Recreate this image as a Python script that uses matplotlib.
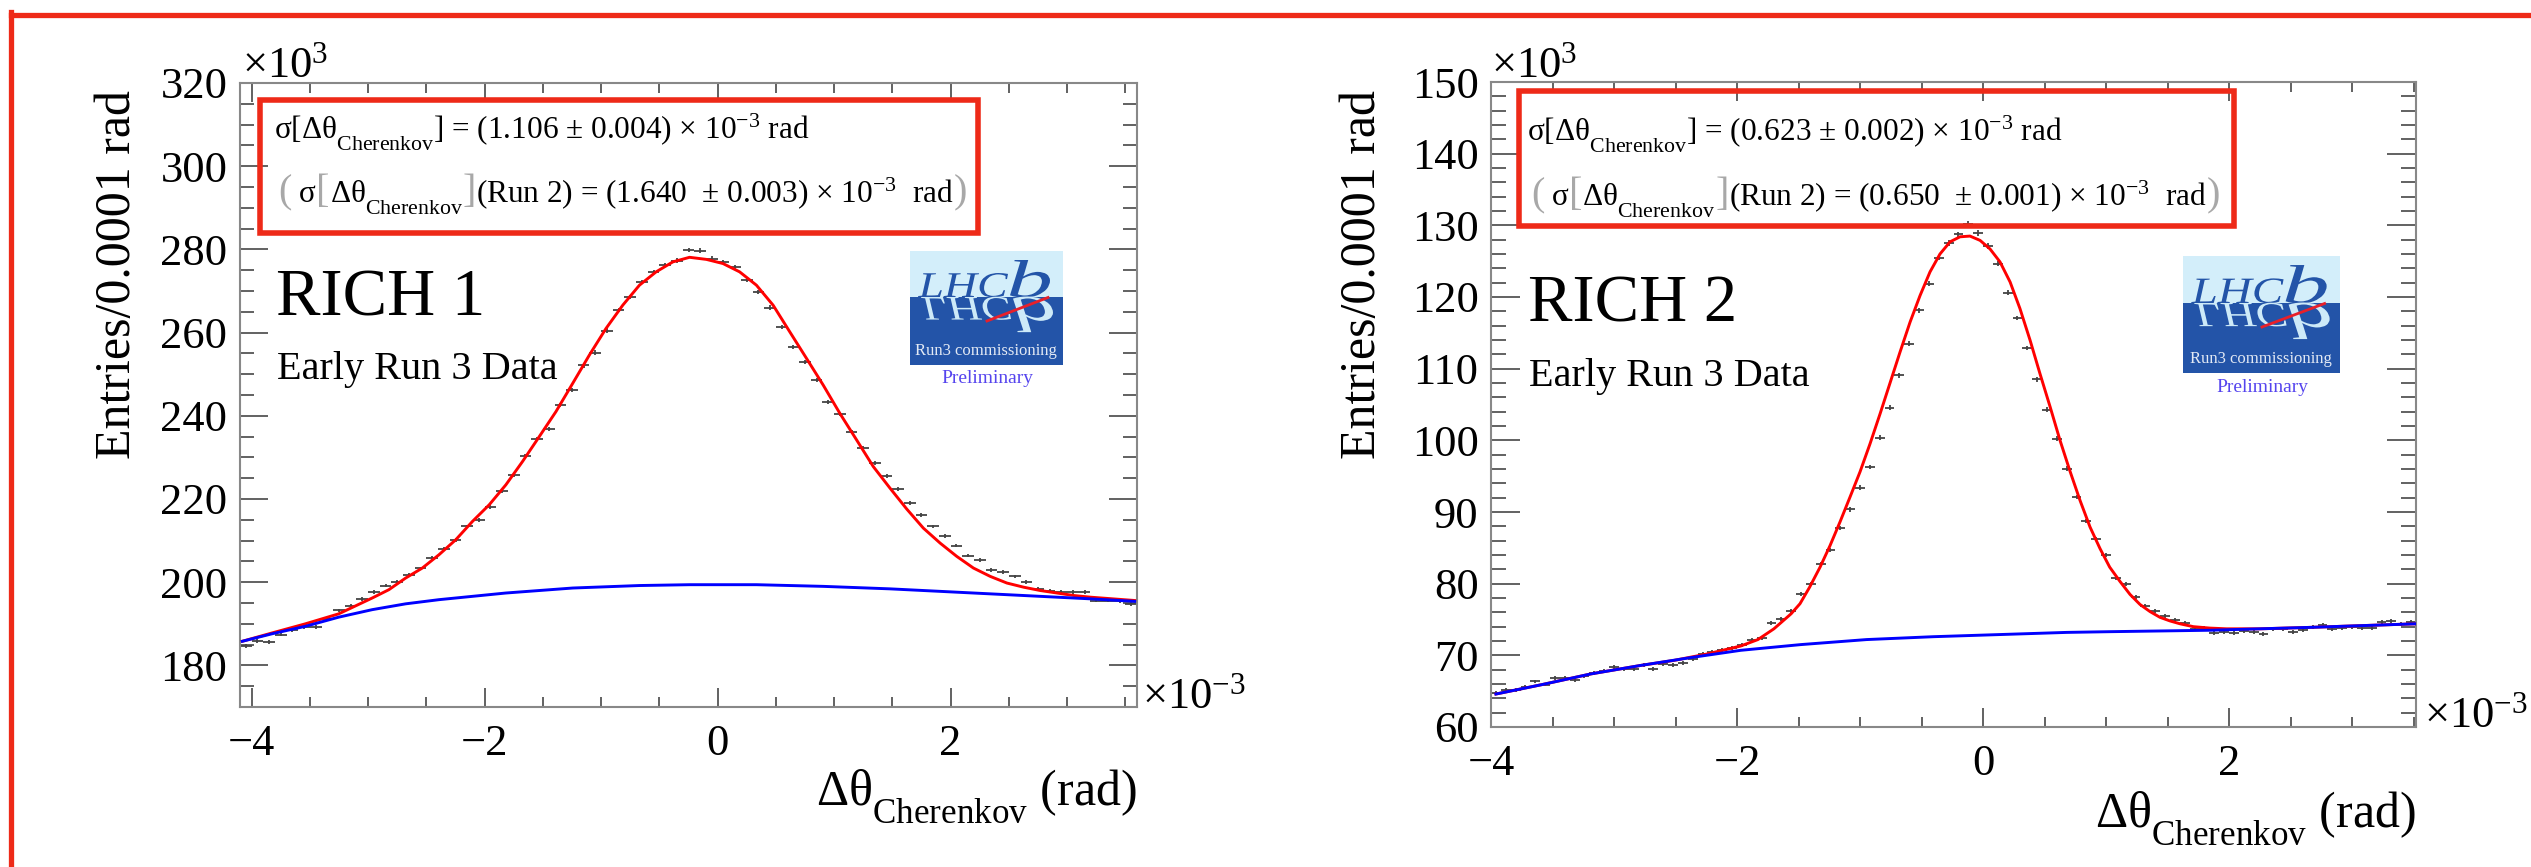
import numpy as np
import matplotlib
matplotlib.use('Agg')
import matplotlib.pyplot as plt
from matplotlib.patches import Rectangle, PathPatch
from matplotlib.textpath import TextPath
from matplotlib.font_manager import FontProperties
from matplotlib.transforms import Affine2D
from matplotlib.offsetbox import TextArea, HPacker, AnnotationBbox
from matplotlib.lines import Line2D
from matplotlib.ticker import MultipleLocator

# ---------------- data ----------------
# RICH 1 histogram (units: x in 1e-3 rad, y in 1e3 entries)
r1_bin_lo, r1_bin_hi, r1_nbins = -4.1, 3.6, 77
r1_counts = [184.6, 185.8, 185.6, 187.4, 188.4, 189.2, 189.3, 191.2, 193.2, 194.2,
             196.0, 197.6, 199.2, 200.1, 201.8, 203.3, 205.8, 208.0, 210.2, 213.4,
             214.9, 218.1, 222.0, 225.7, 230.4, 234.4, 236.9, 242.5, 246.1, 252.1,
             255.2, 260.5, 265.4, 268.6, 272.2, 274.6, 276.2, 277.3, 279.8, 279.7,
             277.8, 277.0, 275.7, 272.6, 269.8, 266.0, 261.3, 256.5, 252.9, 248.6,
             243.4, 240.5, 236.2, 232.2, 228.6, 225.6, 222.4, 219.0, 216.2, 213.4,
             211.2, 208.8, 206.4, 205.3, 202.9, 202.4, 201.4, 200.0, 198.4, 198.0,
             197.6, 197.6, 197.6, 195.6, 195.6, 195.4, 194.8]
r1_fit_x = [-4.08, -3.825, -3.538, -3.252, -2.965, -2.822, -2.678, -2.535, -2.392, -2.248,
            -2.105, -1.961, -1.818, -1.675, -1.531, -1.388, -1.244, -1.101, -0.958, -0.814,
            -0.671, -0.528, -0.384, -0.241, -0.097, 0.046, 0.189, 0.333, 0.476, 0.619,
            0.763, 0.906, 1.049, 1.193, 1.336, 1.480, 1.623, 1.766, 1.910, 2.053,
            2.196, 2.340, 2.483, 2.627, 2.770, 2.913, 3.057, 3.200, 3.343, 3.58]
r1_fit_y = [185.8, 187.8, 190.0, 192.4, 196.2, 198.2, 201.0, 203.4, 206.6, 210.2,
            214.6, 218.6, 223.4, 229.0, 235.0, 241.0, 247.8, 254.6, 261.0, 266.6,
            271.4, 274.6, 277.0, 278.1, 277.6, 276.6, 274.6, 271.4, 266.6, 260.2,
            253.8, 247.4, 240.6, 234.2, 227.8, 222.6, 217.6, 213.0, 209.4, 206.2,
            203.4, 201.4, 199.8, 198.8, 198.0, 197.4, 196.8, 196.4, 196.1, 195.6]
r1_bkg_x = [-4.08, -3.825, -3.538, -3.252, -2.965, -2.678, -2.392, -2.105, -1.818, -1.531,
            -1.244, -0.671, -0.241, 0.333, 0.906, 1.480, 2.053, 2.627, 3.200, 3.58]
r1_bkg_y = [185.8, 187.6, 189.4, 191.6, 193.4, 194.8, 195.8, 196.6, 197.4, 198.0,
            198.6, 199.2, 199.4, 199.4, 199.0, 198.4, 197.6, 196.8, 196.0, 195.4]

# RICH 2 histogram
r2_bin_lo, r2_bin_hi, r2_nbins = -4.0, 3.52, 94
r2_counts = [64.74, 65.12, 65.2, 65.58, 66.37, 65.91, 66.84, 66.84, 66.51, 67.07,
             67.58, 67.81, 68.37, 68.14, 68.14, 68.70, 68.14, 68.84, 68.70, 68.93,
             69.53, 70.23, 70.47, 70.70, 71.02, 71.40, 72.19, 72.42, 74.56, 75.12,
             76.19, 78.51, 80.0, 82.79, 84.65, 87.77, 90.37, 93.40, 96.28, 100.37,
             104.56, 109.07, 113.49, 118.14, 121.86, 125.49, 127.53, 128.74, 130.2, 128.93,
             127.12, 124.65, 120.56, 117.07, 112.88, 108.51, 104.28, 100.23, 96.05, 92.09,
             88.70, 86.28, 83.95, 80.84, 80.0, 78.14, 76.84, 76.14, 75.44, 74.98,
             74.51, 73.72, 73.86, 73.12, 73.26, 73.16, 73.35, 73.26, 73.02, 73.72,
             73.72, 73.26, 73.58, 73.95, 74.23, 73.72, 73.86, 73.95, 73.86, 73.86,
             74.65, 74.74, 74.42, 74.65]
r2_fit_x = [-3.96, -3.59, -3.19, -2.78, -2.51, -2.24, -1.97, -1.83, -1.70, -1.56,
            -1.488, -1.41, -1.325, -1.244, -1.163, -1.081, -1.0, -0.919, -0.837, -0.756,
            -0.675, -0.593, -0.512, -0.431, -0.35, -0.268, -0.187, -0.106, -0.024, 0.057,
            0.138, 0.22, 0.30, 0.382, 0.463, 0.545, 0.626, 0.707, 0.789, 0.87,
            0.951, 1.03, 1.114, 1.195, 1.276, 1.358, 1.439, 1.52, 1.602, 1.71,
            1.845, 1.98, 2.117, 2.25, 2.657, 3.0, 3.52]
r2_fit_y = [64.6, 65.9, 67.4, 68.6, 69.3, 70.2, 71.3, 72.2, 73.7, 75.8,
            77.2, 79.5, 82.3, 85.3, 88.6, 92.1, 95.6, 99.5, 103.7, 108.0,
            112.3, 116.5, 120.2, 123.5, 126.0, 127.7, 128.4, 128.5, 127.9, 126.7,
            124.9, 122.1, 118.4, 114.0, 109.3, 104.7, 100.0, 95.7, 91.6, 87.9,
            84.9, 82.3, 80.3, 78.5, 77.1, 76.1, 75.3, 74.8, 74.4, 74.0,
            73.8, 73.7, 73.7, 73.7, 73.9, 74.1, 74.4]
r2_bkg_x = [-3.96, -3.59, -3.19, -2.78, -2.37, -1.97, -1.48, -0.946, -0.404, 0.138,
            0.68, 1.03, 1.845, 2.657, 3.52]
r2_bkg_y = [64.6, 65.9, 67.4, 68.6, 69.7, 70.7, 71.5, 72.2, 72.6, 72.9,
            73.2, 73.3, 73.5, 73.9, 74.4]

r1_sigma = "1.106 ± 0.004"
r1_run2 = "1.640  ± 0.003"
r2_sigma = "0.623 ± 0.002"
r2_run2 = "0.650  ± 0.001"

# ---------------- style ----------------
W, H, DPI = 2531, 867, 100
plt.rcParams['font.family'] = ['Liberation Serif', 'DejaVu Serif']
plt.rcParams['mathtext.fontset'] = 'custom'
plt.rcParams['mathtext.rm'] = 'Liberation Serif'
plt.rcParams['mathtext.it'] = 'Liberation Serif:italic'
plt.rcParams['mathtext.bf'] = 'Liberation Serif:bold'
plt.rcParams['axes.unicode_minus'] = True
# ROOT-like deeper subscripts
try:
    import matplotlib._mathtext as _mt
    _mt.FontConstantsBase.sub1 = 0.8
except Exception:
    pass

RED = '#ee2a18'
fig = plt.figure(figsize=(W / DPI, H / DPI), dpi=DPI)


def fx(x):
    return x / W


def fy(y):
    return 1 - y / H


def setup_axes(ax, xlim, ylim, ymaj, ymin, ylen):
    ax.set_xlim(*xlim)
    ax.set_ylim(*ylim)
    ax.xaxis.set_major_locator(MultipleLocator(2))
    ax.xaxis.set_minor_locator(MultipleLocator(0.5))
    ax.yaxis.set_major_locator(MultipleLocator(ymaj))
    ax.yaxis.set_minor_locator(MultipleLocator(ymin))
    ax.tick_params(which='both', direction='in', top=True, right=True,
                   color='#555555', labelcolor='black', width=1.3, labelsize=32)
    ax.tick_params(axis='y', which='major', length=ylen, pad=9)
    ax.tick_params(axis='y', which='minor', length=ylen / 2)
    ax.tick_params(axis='x', which='major', length=14, pad=12)
    ax.tick_params(axis='x', which='minor', length=7)
    for s in ax.spines.values():
        s.set_color('#888888')
        s.set_linewidth(1.5)


def draw_hist(ax, lo, hi, n, counts, fitx, fity, bkgx, bkgy):
    bw = (hi - lo) / n
    xc = lo + (np.arange(n) + 0.5) * bw
    cnt = np.array(counts)
    err = np.sqrt(cnt * 1e3) / 1e3
    ax.errorbar(xc, cnt, xerr=bw / 2, yerr=err, fmt='none', ecolor='#444444',
                elinewidth=1.3, capsize=0, zorder=2)
    ax.plot(fitx, fity, color='#ff0000', lw=2.1, zorder=3)
    ax.plot(bkgx, bkgy, color='#0000ff', lw=2.1, zorder=4)


ax1 = fig.add_axes([fx(240), fy(707), (1137 - 240) / W, (707 - 83) / H])
setup_axes(ax1, (r1_bin_lo, r1_bin_hi), (170, 320), 20, 5, 20)
draw_hist(ax1, r1_bin_lo, r1_bin_hi, r1_nbins, r1_counts, r1_fit_x, r1_fit_y, r1_bkg_x, r1_bkg_y)

ax2 = fig.add_axes([fx(1491), fy(727), (2416 - 1491) / W, (727 - 82) / H])
setup_axes(ax2, (r2_bin_lo, r2_bin_hi), (60, 150), 10, 2, 21)
draw_hist(ax2, r2_bin_lo, r2_bin_hi, r2_nbins, r2_counts, r2_fit_x, r2_fit_y, r2_bkg_x, r2_bkg_y)

# ---------------- axis titles / multipliers ----------------
for xl, yt in [(118, 90), (1363, 90)]:
    fig.text(fx(xl), fy(yt), 'Entries/0.0001 rad', rotation=90, fontsize=36,
             ha='center', va='top')
fig.text(fx(1137), fy(805), r'Δθ$_{\mathrm{Cherenkov}}$ (rad)', fontsize=36,
         ha='right', va='baseline')
fig.text(fx(2416), fy(827), r'Δθ$_{\mathrm{Cherenkov}}$ (rad)', fontsize=36,
         ha='right', va='baseline')
fig.text(fx(242), fy(77), r'×10$^{3}$', fontsize=32, va='baseline')
fig.text(fx(1491), fy(77), r'×10$^{3}$', fontsize=32, va='baseline')
fig.text(fx(1142), fy(708), r'×10$^{-3}$', fontsize=32, va='baseline')
fig.text(fx(2424), fy(727), r'×10$^{-3}$', fontsize=32, va='baseline')

# ---------------- labels ----------------
fig.text(fx(276), fy(315), 'RICH 1', fontsize=48, va='baseline')
fig.text(fx(277), fy(379), 'Early Run 3 Data', fontsize=29, va='baseline')
fig.text(fx(1528), fy(321), 'RICH 2', fontsize=48, va='baseline')
fig.text(fx(1529), fy(386), 'Early Run 3 Data', fontsize=29, va='baseline')


# ---------------- result boxes ----------------
def result_box(x0, y0, x1, y1, tx, ty1, ty2, sig, run2):
    fig.add_artist(Rectangle((fx(x0), fy(y1)), (x1 - x0) / W, (y1 - y0) / H,
                             transform=fig.transFigure, fill=False,
                             edgecolor=RED, linewidth=4, zorder=10))
    fig.text(fx(tx), fy(ty1),
             r'σ[Δθ$_{\mathrm{Cherenkov}}$] = (' + sig + r') × 10$^{\mathrm{-3}}$ rad',
             fontsize=22.5, va='baseline', zorder=11)
    gray = dict(fontsize=29, color='#a8a8a8')
    blk = dict(fontsize=22.5, color='black')
    parts = [TextArea('(', textprops=gray),
             TextArea(' σ', textprops=blk),
             TextArea('[', textprops=gray),
             TextArea(r'Δθ$_{\mathrm{Cherenkov}}$', textprops=blk),
             TextArea(']', textprops=gray),
             TextArea('(Run 2) = (' + run2 + r') × 10$^{\mathrm{-3}}$  rad ', textprops=blk),
             TextArea(')', textprops=gray)]
    pack = HPacker(children=parts, align='baseline', pad=0, sep=0)
    ab = AnnotationBbox(pack, (fx(tx + 4), fy(ty2)), xycoords='figure fraction',
                        box_alignment=(0, 0.5), frameon=False, pad=0)
    ab.set_zorder(11)
    fig.add_artist(ab)


result_box(260, 100, 978, 233, 274, 139, 195, r1_sigma, r1_run2)
result_box(1519, 91, 2234, 226, 1527, 141, 198, r2_sigma, r2_run2)


# ---------------- LHCb logos ----------------
def draw_logo(x0, y0, w, h, split, prelim_y):
    lax = fig.add_axes([fx(x0), fy(y0 + h), w / W, h / H])
    lax.set_xlim(0, w)
    lax.set_ylim(0, h)
    lax.axis('off')
    lax.add_patch(Rectangle((0, split), w, h - split, facecolor='#d3eefa', lw=0))
    lax.add_patch(Rectangle((0, 0), w, split, facecolor='#2354a8', lw=0))
    fp = FontProperties(family='Liberation Serif', style='italic')
    sc = w / 153.0
    for s, xa, xb, ht in [('LHC', 8, 98, 24), ('b', 100, 140, 37)]:
        tp = TextPath((0, 0), s, size=1, prop=fp)
        bb = tp.get_extents()
        sx = (xb - xa) * sc / bb.width
        sy = ht * sc / bb.y1
        tr = Affine2D().translate(-bb.x0, 0).scale(sx, sy).translate(xa * sc, split)
        lax.add_patch(PathPatch(tr.transform_path(tp), facecolor='#2354a8', lw=0))
        trm = Affine2D().translate(-bb.x0, 0).scale(sx, -sy * 0.95).translate(xa * sc + 3, split)
        lax.add_patch(PathPatch(trm.transform_path(tp), facecolor='#cdeaf8', lw=0))
    lax.plot([77 * sc, 138 * sc], [split - 24, split - 0.5], color='#e8202a', lw=2)
    lax.text(w / 2 - 1, 10, 'Run3 commissioning', ha='center', va='baseline',
             color='#e2e9f4', fontsize=12)
    lax.text(w / 2 + 1, prelim_y, 'Preliminary', ha='center', va='baseline',
             color='#5544ee', fontsize=14, clip_on=False)


draw_logo(910, 251, 153, 114, 68, -17.7)
draw_logo(2183, 256, 157, 117, 70, -18.7)

# ---------------- outer frame ----------------
fig.add_artist(Line2D([fx(11), 1.0], [fy(14.5), fy(14.5)], color=RED, lw=3.8,
                      transform=fig.transFigure))
fig.add_artist(Line2D([fx(11), fx(11)], [fy(12), 0.0], color=RED, lw=3.8,
                      transform=fig.transFigure))

fig.savefig('out.png', dpi=DPI)
